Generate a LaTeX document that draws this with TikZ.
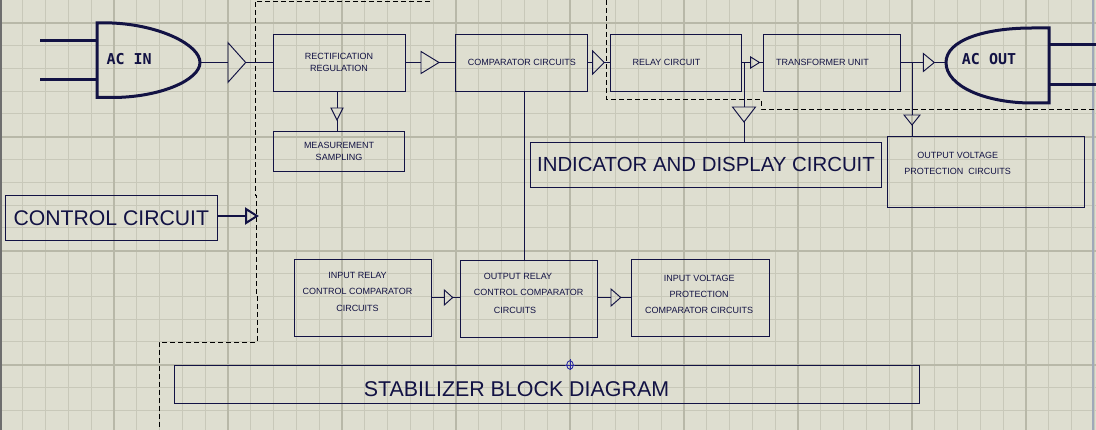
\documentclass[tikz,border=0pt]{standalone}
\usepackage{fontspec}
\setmainfont{Liberation Sans}
\newfontfamily\vecfont{DejaVu Sans Mono}
\definecolor{bgc}{RGB}{222,222,208}
\definecolor{gmin}{RGB}{200,200,185}
\definecolor{gmaj}{RGB}{184,184,168}
\definecolor{ink}{RGB}{18,18,68}
\definecolor{markc}{RGB}{40,40,160}
\definecolor{edgel}{RGB}{110,110,110}
\definecolor{edger}{RGB}{160,168,185}
\tikzset{
  blk/.style={draw=ink, line width=0.95pt, rectangle, inner sep=0pt, text=ink,
              font=\fontsize{9}{12}\selectfont, align=center},
  lbl/.style={text=ink, inner sep=0pt, align=center, font=\fontsize{9}{16.6}\selectfont},
  bigtxt/.style={font=\fontsize{21}{24}\selectfont},
  wire/.style={draw=ink, line width=0.95pt},
  tri/.style={draw=ink, line width=0.95pt, line join=miter},
  heavy/.style={draw=ink, line width=3pt, line join=miter},
  vec/.style={text=ink, inner sep=0pt, font=\vecfont\bfseries\fontsize{15}{15}\selectfont},
  dsh/.style={draw=black, line width=0.9pt, dash pattern=on 5pt off 3pt},
}
\begin{document}
\begin{tikzpicture}[x=1pt,y=-1pt]
\useasboundingbox (0,0) rectangle (1096,430);
\fill[bgc] (0,0) rectangle (1096,430);
% grid
\foreach \i in {0,...,48} \draw[gmin, line width=1pt] (\i*22.8,0) -- (\i*22.8,430);
\foreach \j in {0,...,18} \draw[gmin, line width=1pt] (0,\j*22.8) -- (1096,\j*22.8);
\foreach \i in {1,...,9} \draw[gmaj, line width=2pt] (\i*114,0) -- (\i*114,430);
\foreach \j in {0,...,3} \draw[gmaj, line width=2pt] (0,22.8+\j*114) -- (1096,22.8+\j*114);
\draw[edgel, line width=1.5pt] (0.75,0) -- (0.75,430);
\draw[edger, line width=1.5pt] (1093,0) -- (1093,430);

% dashed region borders
\draw[dsh] (430,1) -- (255,1) -- (255,195) -- (256,195) -- (256,293) -- (257,293) -- (257,342) -- (159,342) -- (159,430);
\draw[dsh] (606,0) -- (606,99) -- (761,99) -- (761,109) -- (1096,109);

% AC IN
\coordinate (in1) at (40,40.7);
\coordinate (in2) at (40,80);
\coordinate (acinA) at (97,40.7);
\coordinate (acinB) at (97,80);
\draw[heavy] (97,23) -- (112,23) .. controls (160,25) and (200,45) .. (200,62.5)
   .. controls (200,80) and (160,97.5) .. (112,97.5) -- (97,97.5) -- cycle;
\draw[heavy] (in1) -- (acinA);
\draw[heavy] (in2) -- (acinB);
\node[vec] (acin-t) at (129.2,58.7) {AC IN};
\coordinate (acin) at (200,62.5);

% AC OUT
\draw[heavy] (946,62.5) .. controls (946,40) and (985,28) .. (1032,28) -- (1049,28) -- (1049,103)
   -- (1032,103) .. controls (985,103) and (946,86) .. (946,62.5) -- cycle;
\coordinate (acout) at (946,62.5);
\coordinate (acoutA) at (1049,45);
\coordinate (acoutB) at (1049,85);
\coordinate (out1) at (1096,45);
\coordinate (out2) at (1096,85);
\draw[heavy] (acoutA) -- (out1);
\draw[heavy] (acoutB) -- (out2);
\node[vec] (acout-t) at (989,58.7) {AC OUT};

% top row boxes
\node[blk, minimum width=132, minimum height=57] (rect) at (339,62.5) {RECTIFICATION\\REGULATION};
\node[blk, minimum width=131.4, minimum height=40] (meas) at (339,151.3) {MEASUREMENT\\SAMPLING};
\node[blk, minimum width=131.7, minimum height=57] (comp) at (521.8,62.5) {COMPARATOR CIRCUITS};
\node[blk, minimum width=131.4, minimum height=57] (relay) at (676,62.5) {};
\node[lbl] (relay-t) at (666.5,62.5) {RELAY CIRCUIT};
\node[blk, minimum width=137, minimum height=57] (trans) at (831.8,62.5) {};
\node[lbl] (trans-t) at (822.5,62.5) {TRANSFORMER UNIT};
\node[blk, bigtxt, font=\fontsize{20.4}{24}\selectfont, minimum width=350.6, minimum height=45] (ind) at (706,164.8) {INDICATOR AND DISPLAY CIRCUIT};
\node[blk, minimum width=197, minimum height=70.7] (outv) at (985.8,171.65) {};
\node[lbl, font=\fontsize{9}{16.4}\selectfont] (outv-t) at (957.7,163.5) {OUTPUT VOLTAGE\\PROTECTION\ \ CIRCUITS};
\node[blk, font=\fontsize{21.2}{24}\selectfont, minimum width=212, minimum height=44.7] (ctrl) at (111.3,218.3) {CONTROL CIRCUIT};

% lower row boxes
\node[blk, minimum width=137.4, minimum height=77.4] (inr) at (363,298) {};
\node[lbl] (inr-t) at (357.5,291.7) {INPUT RELAY\\CONTROL COMPARATOR\\CIRCUITS};
\node[blk, minimum width=137, minimum height=76.6] (outr) at (528.8,299) {};
\node[lbl] (outr-t1) at (518,276) {OUTPUT RELAY};
\node[lbl] (outr-t2) at (528.7,292.7) {CONTROL COMPARATOR};
\node[lbl] (outr-t3) at (515,310) {CIRCUITS};
\node[blk, minimum width=138.4, minimum height=77.4] (inv) at (700.5,298) {};
\node[lbl, font=\fontsize{9}{16.2}\selectfont] (inv-t) at (699.2,294.5) {INPUT VOLTAGE\\PROTECTION\\COMPARATOR CIRCUITS};

% title box
\node[blk, minimum width=744.7, minimum height=38] (stab) at (547.3,384) {};
\node[text=ink, inner sep=0pt, font=\fontsize{21.4}{24}\selectfont] (stab-t) at (516.5,389.5) {STABILIZER BLOCK DIAGRAM};
\draw[markc, line width=0.9pt] (570,365) ellipse (3.3 and 4.3);
\draw[markc, line width=0.9pt] (565,365) -- (575,365) (570,359.5) -- (570,370.5);

% connectors with triangles
% AC IN -> rect
\coordinate (t1b) at (228,62.5); \coordinate (t1t) at (245.7,62.5);
\draw[tri] (228,42.7) -- (t1t) -- (228,82.3) -- cycle;
\draw[wire] (acin) -- (t1b);
\draw[wire] (t1t) -- (rect.west);
% rect -> comp
\coordinate (t2b) at (421,62.5); \coordinate (t2t) at (439,62.5);
\draw[tri] (421,51.5) -- (t2t) -- (421,73.5) -- cycle;
\draw[wire] (rect.east) -- (t2b);
\draw[wire] (t2t) -- (comp.west);
% comp -> relay
\coordinate (t3b) at (592.7,62.5); \coordinate (t3t) at (604.3,62.5);
\draw[tri] (592.7,51) -- (t3t) -- (592.7,74) -- cycle;
\draw[wire] (comp.east) -- (t3b);
\draw[wire] (t3t) -- (relay.west);
% relay -> trans
\coordinate (t4b) at (750.7,62.5); \coordinate (t4t) at (759.5,62.5);
\draw[tri] (750.7,57) -- (t4t) -- (750.7,68) -- cycle;
\draw[wire] (relay.east) -- (t4b);
\draw[wire] (t4t) -- (trans.west);
% trans -> AC OUT
\coordinate (t5b) at (923.3,62.5); \coordinate (t5t) at (934.3,62.5);
\draw[tri] (923.3,53.5) -- (t5t) -- (923.3,71.5) -- cycle;
\draw[wire] (trans.east) -- (t5b);
\draw[wire] (t5t) -- (acout);
% relay/trans wire -> indicator
\coordinate (j1) at (744,62.5);
\coordinate (t6b) at (744,107); \coordinate (t6t) at (744,122);
\draw[tri] (732.5,107) -- (t6t) -- (755.5,107) -- cycle;
\draw[wire] (j1) -- (t6b);
\draw[wire] (t6t) -- (ind.north -| t6t);
% trans/acout wire -> output voltage
\coordinate (j2) at (912,62.5);
\coordinate (t7b) at (912,115); \coordinate (t7t) at (912,125);
\draw[tri] (904,115) -- (t7t) -- (920,115) -- cycle;
\draw[wire] (j2) -- (t7b);
\draw[wire] (t7t) -- (outv.north -| t7t);
% rect -> measurement
\coordinate (j3) at (337,91);
\coordinate (t8b) at (337,108); \coordinate (t8t) at (337,120);
\draw[tri] (331,108) -- (t8t) -- (343,108) -- cycle;
\draw[wire] (rect.south -| j3) -- (t8b);
\draw[wire] (t8t) -- (meas.north -| t8t);
% comp -> output relay
\coordinate (j4) at (524.5,91);
\draw[wire] (comp.south -| j4) -- (outr.north -| j4);
% control arrow
\coordinate (t0b) at (246,216); \coordinate (t0t) at (257,216);
\draw[draw=ink, line width=2.2pt] (ctrl.east |- t0b) -- (t0b);
\draw[draw=ink, line width=2pt, line join=miter] (246,209) -- (t0t) -- (246,223) -- cycle;
% inr -> outr
\coordinate (t9b) at (444.3,297.5); \coordinate (t9t) at (452.7,297.5);
\draw[tri] (444.3,290) -- (t9t) -- (444.3,305) -- cycle;
\draw[wire] (inr.east |- t9b) -- (t9b);
\draw[wire] (t9t) -- (outr.west |- t9t);
% outr -> inv
\coordinate (t10b) at (611,297.5); \coordinate (t10t) at (620.7,297.5);
\draw[tri] (611,289) -- (t10t) -- (611,306) -- cycle;
\draw[wire] (outr.east |- t10b) -- (t10b);
\draw[wire] (t10t) -- (inv.west |- t10t);
\end{tikzpicture}
\end{document}
